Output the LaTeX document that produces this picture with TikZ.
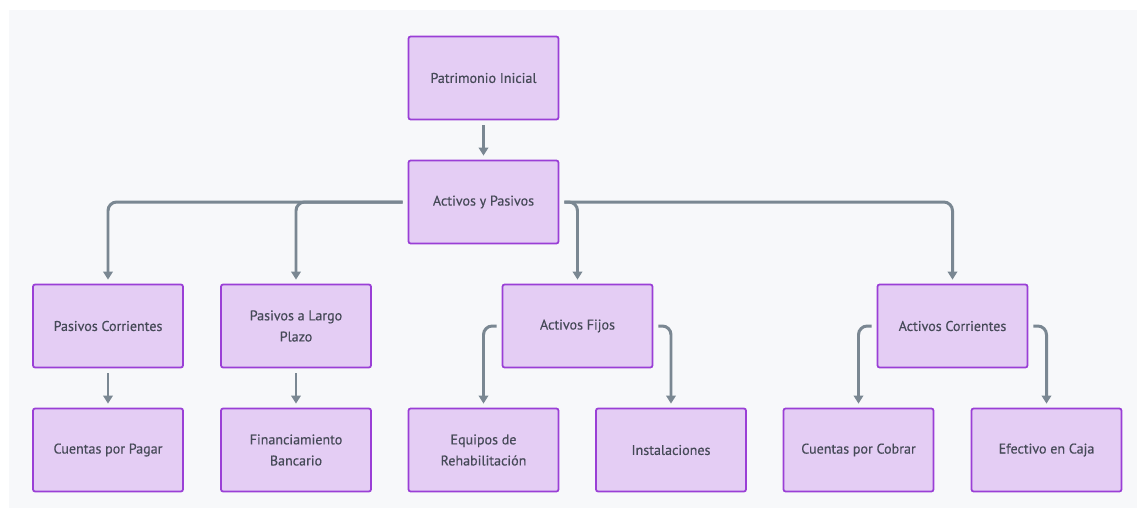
\documentclass[tikz,border=0pt]{standalone}
\usepackage{fontspec}
\setmainfont{PT Sans}
\newfontfamily\boxfont[FakeBold=0.35]{PT Sans}
\usepackage{xcolor}
\usepackage{tikz}
\usetikzlibrary{arrows.meta}
\definecolor{boxfill}{HTML}{E4CDF4}
\definecolor{boxline}{HTML}{9A3FD6}
\definecolor{txt}{HTML}{464A58}
\definecolor{link}{HTML}{7A8792}
\definecolor{bg}{HTML}{F7F8FA}

\begin{document}
\begin{tikzpicture}[x=0.02cm,y=-0.02cm]
\tikzstyle{bx}=[draw=boxline,fill=boxfill,line width=1pt,rounded corners=1.2pt,shape=rectangle,minimum width=3cm,minimum height=1.66cm,align=center,text=txt,font=\boxfont\fontsize{8}{12}\selectfont]
\tikzstyle{lk}=[draw=link,line width=1.7pt,rounded corners=5pt,-{Triangle[length=4.6pt,width=5.4pt]}]

\useasboundingbox (0,0) rectangle (1137,508);
\fill[bg] (9,10) rectangle (1137,508);

\node[bx](pi) at (483.5,78){Patrimonio Inicial};
\node[bx](ap) at (483.5,202){Activos y Pasivos};
%
\node[bx](pc) at (108,326){Pasivos Corrientes};
\node[bx](pl) at (296,326){Pasivos a Largo\\Plazo};
\node[bx](af) at (577.5,326){Activos Fijos};
\node[bx](ac) at (952.5,326){Activos Corrientes};
%
\node[bx](cp) at (108,450){Cuentas por Pagar};
\node[bx](fb) at (296,450){Financiamiento\\Bancario};
\node[bx](er) at (483.5,450){Equipos de\\Rehabilitación};
\node[bx](in) at (671,450){Instalaciones};
\node[bx](cc) at (858.5,450){Cuentas por Cobrar};
\node[bx](ec) at (1046.5,450){Efectivo en Caja};
%
\draw[lk] ([yshift=-5*0.02cm]pi.south) -- ([yshift=4*0.02cm]ap.north);
\draw[lk] ([xshift=-5*0.02cm]ap.west) -| ([yshift=4*0.02cm]pc.north);
\draw[lk] ([xshift=-5*0.02cm]ap.west) -| ([yshift=4*0.02cm]pl.north);
\draw[lk] ([xshift=5*0.02cm]ap.east) -| ([yshift=4*0.02cm]af.north);
\draw[lk] ([xshift=5*0.02cm]ap.east) -| ([yshift=4*0.02cm]ac.north);
%
\draw[lk] ([yshift=-5*0.02cm]pc.south) -- ([yshift=4*0.02cm]cp.north);
\draw[lk] ([yshift=-5*0.02cm]pl.south) -- ([yshift=4*0.02cm]fb.north);
\draw[lk] ([xshift=-5*0.02cm]af.west) -| ([yshift=4*0.02cm]er.north);
\draw[lk] ([xshift=5*0.02cm]af.east) -| ([yshift=4*0.02cm]in.north);
\draw[lk] ([xshift=-5*0.02cm]ac.west) -| ([yshift=4*0.02cm]cc.north);
\draw[lk] ([xshift=5*0.02cm]ac.east) -| ([yshift=4*0.02cm]ec.north);
\end{tikzpicture}
\end{document}
